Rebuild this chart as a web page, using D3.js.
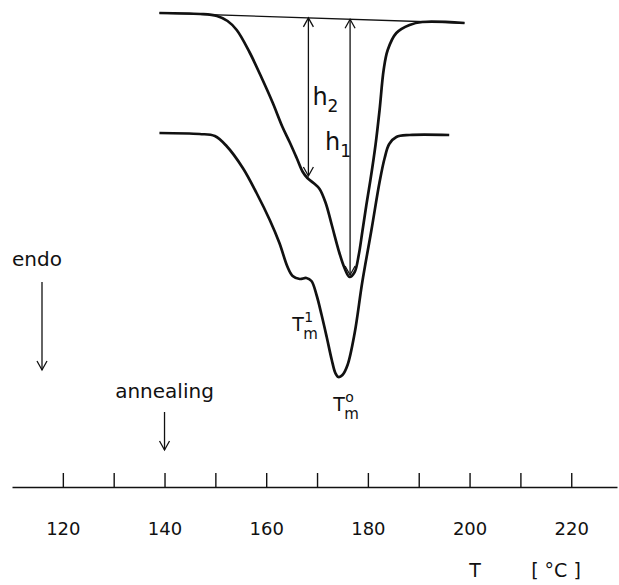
<!DOCTYPE html>
<html>
<head>
<meta charset="utf-8">
<script src="https://cdn.jsdelivr.net/npm/d3@7"></script>
<style>
  body { margin: 0; background: #fff; }
  text { font-family: "DejaVu Sans", sans-serif; fill: #111; }
</style>
</head>
<body>
<div id="chart"></div>
<script>
// DSC melting curves, temperature in °C, heat flow in arbitrary units (endo down)
const upperT = [139, 147, 150.3, 152.4, 154.2, 156.7, 159.3, 161.3, 163.2, 164.6, 166.0, 167.2, 168.1,
  169.3, 170.5, 171.7, 172.9, 174.4, 175.4, 176.4, 177.4, 178.2, 178.9, 179.7, 180.5, 181.5, 182.3,
  183.1, 183.9, 185.6, 188.2, 190.7, 199];
const upperQ = [0, -0.1, -0.3, -0.8, -1.7, -3.9, -6.7, -9.0, -11.4, -12.9, -14.5, -15.9, -16.5,
  -17.0, -17.6, -19.0, -21.2, -24.0, -25.5, -26.4, -25.9, -24.2, -21.9, -19.2, -16.7, -13.2, -9.7,
  -5.7, -3.7, -2.0, -1.2, -0.9, -1.0];

const lowerT = [139, 146.9, 149.9, 152.2, 155.4, 158.1, 160.7, 162.6, 164.2, 165.2, 166.6, 167.9,
  168.9, 169.9, 170.9, 171.9, 172.9, 173.6, 174.2, 175.0, 176.0, 177.4, 178.9, 180.7, 182.3, 183.3,
  184.2, 185.6, 188.2, 196];
const lowerQ = [-12.0, -12.1, -12.3, -13.3, -15.5, -18.0, -20.7, -23.0, -25.4, -26.3, -26.6, -26.5,
  -26.8, -28.2, -30.2, -32.4, -34.7, -36.0, -36.4, -36.2, -35.2, -32.0, -26.9, -21.7, -16.9, -14.5,
  -13.1, -12.4, -12.2, -12.2];

// baseline drawn under the upper curve
const baseT = [139, 199];
const baseQ = [0, -1.0];

// peak heights h2 (shoulder) and h1 (main peak)
const heightT = [168.3, 176.5];
const heightQ = [-16.3, -26.2];
const heightNames = ["2", "1"];

const tickValues = d3.range(120, 221, 10);
const tickLabels = [120, 140, 160, 180, 200, 220];
const annealT = 140;

const width = 619, height = 585;

const x = d3.scaleLinear().domain([110, 229]).range([12, 617]);
const y = d3.scaleLinear().domain([0, -40]).range([13, 413]);
const axisY = 487;

const svg = d3.select("#chart")
  .append("svg")
  .attr("width", width)
  .attr("height", height);

const line = d3.line()
  .x(d => x(d[0]))
  .y(d => y(d[1]))
  .curve(d3.curveCatmullRom.alpha(0.5));

// baseline tangent
svg.append("line")
  .attr("x1", x(baseT[0])).attr("y1", y(baseQ[0]))
  .attr("x2", x(baseT[1])).attr("y2", y(baseQ[1]))
  .attr("stroke", "#111").attr("stroke-width", 1.3);

svg.append("path")
  .datum(d3.zip(upperT, upperQ))
  .attr("d", line)
  .attr("fill", "none").attr("stroke", "#111").attr("stroke-width", 2.7)
  .attr("stroke-linejoin", "round");

svg.append("path")
  .datum(d3.zip(lowerT, lowerQ))
  .attr("d", line)
  .attr("fill", "none").attr("stroke", "#111").attr("stroke-width", 2.7)
  .attr("stroke-linejoin", "round");

// arrow heads as small open V
const arrowHead = (g, px, py, dir) => {
  // dir = 1 points down, -1 points up
  g.append("path")
    .attr("d", `M${px - 5},${py - dir * 9} L${px},${py} L${px + 5},${py - dir * 9}`)
    .attr("fill", "none").attr("stroke", "#111").attr("stroke-width", 1.3);
};

const baseAt = t => baseQ[0] + (baseQ[1] - baseQ[0]) * (t - baseT[0]) / (baseT[1] - baseT[0]);

heightT.forEach((t, i) => {
  const px = x(t);
  const y0 = y(baseAt(t));
  const y1 = y(heightQ[i]);
  svg.append("line")
    .attr("x1", px).attr("y1", y0).attr("x2", px).attr("y2", y1)
    .attr("stroke", "#111").attr("stroke-width", 1.3);
  arrowHead(svg, px, y0, -1);
  arrowHead(svg, px, y1, 1);
});

// h labels
const hLabel = (px, py, sub) => {
  const t = svg.append("text").attr("x", px).attr("y", py).attr("font-size", 24);
  t.append("tspan").text("h");
  t.append("tspan").attr("font-size", 17).attr("dy", 7).text(sub);
};
hLabel(x(heightT[0]) + 4, 105, heightNames[0]);
hLabel(x(heightT[1]) - 25, 150, heightNames[1]);

// T_m labels
const tmLabel = (px, py, sup) => {
  const g = svg.append("g");
  g.append("text").attr("x", px).attr("y", py).attr("font-size", 19).text("T");
  g.append("text").attr("x", px + 12).attr("y", py - 9).attr("font-size", 14).text(sup);
  g.append("text").attr("x", px + 11).attr("y", py + 8).attr("font-size", 15).text("m");
};
tmLabel(x(165.1), 331, "1");
tmLabel(x(173.2), 411, "o");

// endo arrow
svg.append("text").attr("x", 12).attr("y", 266).attr("font-size", 20).text("endo");
svg.append("line").attr("x1", 42).attr("y1", 282).attr("x2", 42).attr("y2", 370)
  .attr("stroke", "#111").attr("stroke-width", 1.3);
arrowHead(svg, 42, 370, 1);

// annealing marker
svg.append("text").attr("x", x(annealT)).attr("y", 398).attr("font-size", 20)
  .attr("text-anchor", "middle").text("annealing");
svg.append("line").attr("x1", x(annealT)).attr("y1", 412).attr("x2", x(annealT)).attr("y2", 450)
  .attr("stroke", "#111").attr("stroke-width", 1.3);
arrowHead(svg, x(annealT), 450, 1);

// temperature axis
const axis = d3.axisBottom(x)
  .tickValues(tickValues)
  .tickSizeInner(-14)
  .tickSizeOuter(0)
  .tickPadding(35)
  .tickFormat(d => tickLabels.includes(d) ? d : "");

const gx = svg.append("g")
  .attr("transform", `translate(0,${axisY})`)
  .call(axis);
gx.select(".domain").attr("stroke", "#111").attr("stroke-width", 1.5);
gx.selectAll(".tick line").attr("stroke", "#111").attr("stroke-width", 1.4);
gx.selectAll(".tick text").attr("font-size", 18).attr("font-family", "DejaVu Sans, sans-serif").attr("fill", "#111");

svg.append("text").attr("x", 475).attr("y", 577).attr("font-size", 19).attr("text-anchor", "middle").text("T");
svg.append("text").attr("x", 556).attr("y", 577).attr("font-size", 19).attr("text-anchor", "middle")
  .attr("xml:space", "preserve").text("[ °C ]");
</script>
</body>
</html>
